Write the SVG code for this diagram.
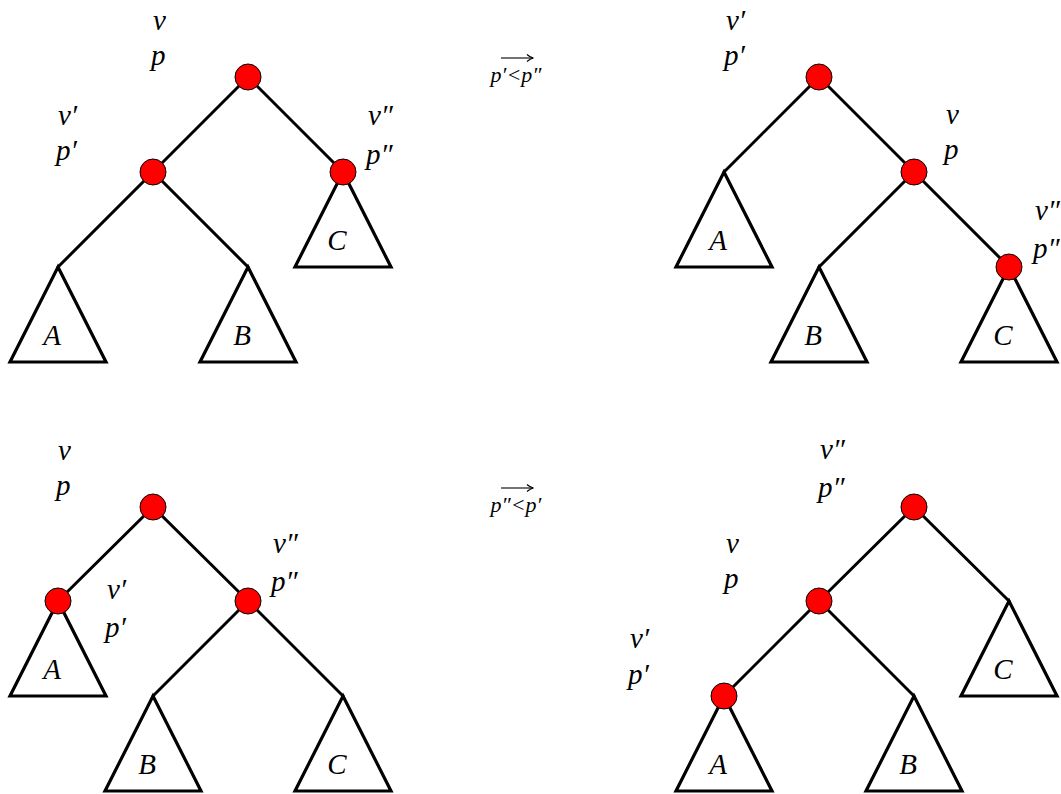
<svg xmlns="http://www.w3.org/2000/svg" width="1061" height="794" viewBox="0 0 1061 794">
<style>
.e{stroke:#000;stroke-width:3;fill:none;stroke-linecap:round}
.t{stroke:#000;stroke-width:3.2;fill:none;stroke-linejoin:miter}
.n{fill:#ff0000;stroke:#000;stroke-width:1}
.l{font-family:'Liberation Serif',serif;font-style:italic;font-size:29px;fill:#000}
.m{text-anchor:middle}
.s{font-family:'Liberation Serif',serif;font-style:italic;font-size:22px;fill:#000;text-anchor:middle}
.ar{stroke:#000;stroke-width:1.1;fill:none}
</style>
<defs>
<marker id="ah" markerWidth="10" markerHeight="10" refX="7" refY="5" orient="auto" markerUnits="userSpaceOnUse">
<path d="M1,1.5 Q4,4.4 7.5,5 Q4,5.6 1,8.5" stroke="#000" stroke-width="1.1" fill="none"/>
</marker>
</defs>
<rect width="1061" height="794" fill="#fff"/>
<g id="connectors">
<line class="e" x1="248" y1="77" x2="153" y2="172"/>
<line class="e" x1="248" y1="77" x2="343" y2="172"/>
<line class="e" x1="153" y1="172" x2="58" y2="267"/>
<line class="e" x1="153" y1="172" x2="248" y2="267"/>
<line class="e" x1="819" y1="77" x2="724" y2="172"/>
<line class="e" x1="819" y1="77" x2="914" y2="172"/>
<line class="e" x1="914" y1="172" x2="819" y2="267"/>
<line class="e" x1="914" y1="172" x2="1009" y2="267"/>
<line class="e" x1="153" y1="507" x2="58" y2="601"/>
<line class="e" x1="153" y1="507" x2="248" y2="601"/>
<line class="e" x1="248" y1="601" x2="153" y2="696"/>
<line class="e" x1="248" y1="601" x2="343" y2="696"/>
<line class="e" x1="914" y1="507" x2="819" y2="601"/>
<line class="e" x1="914" y1="507" x2="1009" y2="601"/>
<line class="e" x1="819" y1="601" x2="724" y2="696"/>
<line class="e" x1="819" y1="601" x2="914" y2="696"/>
<line class="ar" x1="501" y1="58" x2="533" y2="58" marker-end="url(#ah)"/>
<line class="ar" x1="501" y1="488" x2="533" y2="488" marker-end="url(#ah)"/>
</g>
<g id="subtrees">
<g id="tl-A"><path class="t" d="M58,267 L106,362 L10,362 Z"/><text class="l m" x="52" y="345">A</text></g>
<g id="tl-B"><path class="t" d="M248,267 L296,362 L200,362 Z"/><text class="l m" x="242" y="345">B</text></g>
<g id="tl-C"><path class="t" d="M343,172 L391,267 L295,267 Z"/><text class="l m" x="337" y="250">C</text></g>
<g id="tr-A"><path class="t" d="M724,172 L772,267 L676,267 Z"/><text class="l m" x="718" y="250">A</text></g>
<g id="tr-B"><path class="t" d="M819,267 L867,362 L771,362 Z"/><text class="l m" x="813" y="345">B</text></g>
<g id="tr-C"><path class="t" d="M1009,267 L1057,362 L961,362 Z"/><text class="l m" x="1003" y="345">C</text></g>
<g id="bl-A"><path class="t" d="M58,601 L106,696 L10,696 Z"/><text class="l m" x="52" y="679">A</text></g>
<g id="bl-B"><path class="t" d="M153,696 L201,791 L105,791 Z"/><text class="l m" x="147" y="774">B</text></g>
<g id="bl-C"><path class="t" d="M343,696 L391,791 L295,791 Z"/><text class="l m" x="337" y="774">C</text></g>
<g id="br-A"><path class="t" d="M724,696 L772,791 L676,791 Z"/><text class="l m" x="718" y="774">A</text></g>
<g id="br-B"><path class="t" d="M914,696 L962,791 L866,791 Z"/><text class="l m" x="908" y="774">B</text></g>
<g id="br-C"><path class="t" d="M1009,601 L1057,696 L961,696 Z"/><text class="l m" x="1003" y="679">C</text></g>
</g>
<g id="tl-root"><circle class="n" cx="248" cy="77" r="13"/><text class="l" x="153" y="30">ν</text><text class="l" x="151" y="65">p</text></g>
<g id="tl-left"><circle class="n" cx="153" cy="172" r="13"/><text class="l" x="58" y="125">ν′</text><text class="l" x="56" y="160">p′</text></g>
<g id="tl-right"><circle class="n" cx="343" cy="172" r="13"/><text class="l" x="368" y="125">ν″</text><text class="l" x="366" y="164">p″</text></g>
<g id="tr-root"><circle class="n" cx="819" cy="77" r="13"/><text class="l" x="726" y="30">ν′</text><text class="l" x="724" y="65">p′</text></g>
<g id="tr-right"><circle class="n" cx="914" cy="172" r="13"/><text class="l" x="946" y="124">ν</text><text class="l" x="944" y="159">p</text></g>
<g id="tr-rr"><circle class="n" cx="1009" cy="267" r="13"/><text class="l" x="1035" y="220">ν″</text><text class="l" x="1033" y="258">p″</text></g>
<g id="bl-root"><circle class="n" cx="153" cy="507" r="13"/><text class="l" x="58" y="460">ν</text><text class="l" x="56" y="495">p</text></g>
<g id="bl-left"><circle class="n" cx="58" cy="601" r="13"/><text class="l" x="107" y="599">ν′</text><text class="l" x="105" y="637">p′</text></g>
<g id="bl-right"><circle class="n" cx="248" cy="601" r="13"/><text class="l" x="273" y="553">ν″</text><text class="l" x="271" y="591">p″</text></g>
<g id="br-root"><circle class="n" cx="914" cy="507" r="13"/><text class="l" x="820" y="459">ν″</text><text class="l" x="818" y="497">p″</text></g>
<g id="br-left"><circle class="n" cx="819" cy="601" r="13"/><text class="l" x="726" y="553">ν</text><text class="l" x="724" y="588">p</text></g>
<g id="br-ll"><circle class="n" cx="724" cy="696" r="13"/><text class="l" x="630" y="648">ν′</text><text class="l" x="628" y="684">p′</text></g>
<g id="arrow-labels">
<text class="s" x="516" y="82">p′&lt;p″</text>
<text class="s" x="516" y="512">p″&lt;p′</text>
</g>
</svg>
